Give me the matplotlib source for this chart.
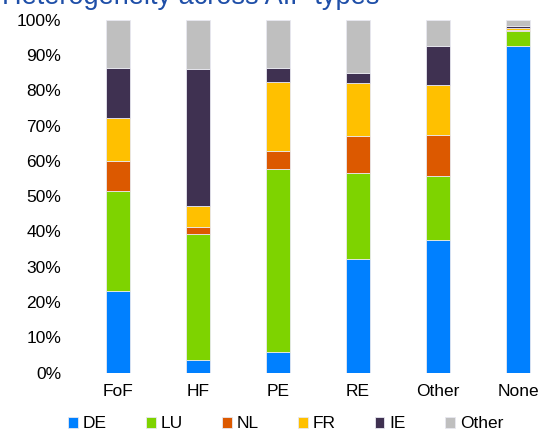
import matplotlib.pyplot as plt
import numpy as np

plt.rcParams['font.family'] = ['Liberation Sans', 'DejaVu Sans']

categories = ['FoF', 'HF', 'PE', 'RE', 'Other', 'None']
series_names = ['DE', 'LU', 'NL', 'FR', 'IE', 'Other']
de = [23.0, 3.6, 5.7, 32.2, 37.7, 92.6]
lu = [28.4, 35.7, 52.1, 24.5, 18.1, 4.3]
nl = [8.5, 2.1, 4.9, 10.5, 11.7, 0.1]
fr = [12.3, 5.7, 19.6, 14.8, 14.1, 0.7]
ie = [14.2, 39.0, 4.1, 2.9, 10.9, 0.5]
other = [13.6, 13.9, 13.6, 15.1, 7.5, 1.8]
colors = ['#0080FF', '#7ED300', '#DC5900', '#FFC000', '#3F3151', '#BFBFBF']

fig = plt.figure(figsize=(5.42, 4.3), dpi=100)
ax = fig.add_axes([78 / 542, 0.1337, 1 - 78 / 542, 0.82])

x = np.arange(len(categories))
bottom = np.zeros(len(categories))
for name, vals, c in zip(series_names, [de, lu, nl, fr, ie, other], colors):
    ax.bar(x, vals, bottom=bottom, width=0.31, color=c, label=name,
           edgecolor='#e8e8f0', linewidth=0.6)
    bottom += np.array(vals)

ax.set_xlim(-0.5, 5.3)
ax.set_ylim(0, 100)
ax.set_yticks(range(0, 101, 10))
ax.set_yticklabels([f'{v}%' for v in range(0, 101, 10)])
ax.set_xticks(x)
ax.set_xticklabels(categories)
for s in ax.spines.values():
    s.set_visible(False)
ax.tick_params(length=0, labelsize=12.5)
ax.tick_params(axis='x', pad=8)
ax.tick_params(axis='y', pad=12)

fig.text(0.003, 1 - 4 / 430, 'Heterogeneity across AIF types', color='#1F4FA8',
         fontsize=19.5, va='baseline', ha='left')

fig.legend(loc='center', bbox_to_anchor=(0.527, 0.014), ncol=6, frameon=False,
           fontsize=12.5, handlelength=0.55, handleheight=0.55, handletextpad=0.3,
           columnspacing=2.25)

fig.savefig('out.png', dpi=100)
